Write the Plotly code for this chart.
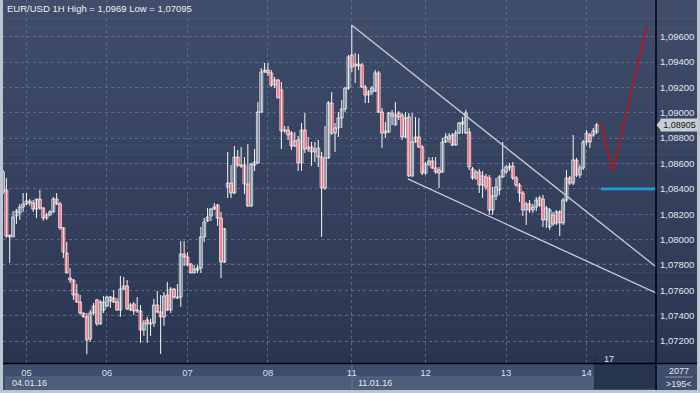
import plotly.graph_objects as go

# ---------------- data ----------------
title_text = "EUR/USD 1H High = 1,0969 Low = 1,07095"

open_ = [1.08375,1.08391,1.08036,1.08021,1.08186,1.08210,1.08257,1.08281,1.08304,1.08288,
         1.08241,1.08320,1.08249,1.08170,1.08194,1.08218,1.08320,1.08281,1.08092,1.07894,
         1.07697,1.07681,1.07571,1.07508,1.07421,1.07390,1.07216,1.07421,1.07524,1.07335,
         1.07445,1.07476,1.07516,1.07539,1.07508,1.07445,1.07610,1.07634,1.07445,1.07492,
         1.07437,1.07437,1.07287,1.07366,1.07335,1.07342,1.07484,1.07429,1.07390,1.07563,
         1.07445,1.07610,1.07539,1.07547,1.07886,1.07863,1.07807,1.07736,1.07760,1.07776,
         1.08021,1.08147,1.08186,1.08241,1.08273,1.08170,1.07823,1.08415,1.08446,1.08367,
         1.08651,1.08588,1.08588,1.08438,1.08265,1.08588,1.08604,1.09006,1.09322,1.09337,
         1.09314,1.09219,1.09259,1.09180,1.08856,1.08864,1.08840,1.08738,1.08785,1.08604,
         1.08864,1.08714,1.08730,1.08691,1.08651,1.08651,1.08407,1.08644,1.09077,1.08840,
         1.08880,1.08959,1.09030,1.09195,1.09456,1.09369,1.09385,1.09377,1.09203,1.09140,
         1.09164,1.09172,1.09314,1.09006,1.08840,1.08848,1.08974,1.08903,1.08998,1.08982,
         1.08809,1.08967,1.08502,1.08770,1.08809,1.08730,1.08525,1.08596,1.08620,1.08565,
         1.08549,1.08533,1.08770,1.08793,1.08825,1.08746,1.08840,1.08911,1.08840,1.08848,
         1.08557,1.08486,1.08533,1.08430,1.08494,1.08486,1.08233,1.08344,1.08391,1.08494,
         1.08533,1.08565,1.08580,1.08486,1.08430,1.08367,1.08233,1.08281,1.08233,1.08257,
         1.08273,1.08320,1.08155,1.08099,1.08194,1.08131,1.08218,1.08131,1.08312,1.08486,
         1.08446,1.08628,1.08509,1.08565,1.08770,1.08825,1.08825,1.08848]
high = [1.08549,1.08486,1.08036,1.08225,1.08241,1.08281,1.08367,1.08367,1.08320,1.08312,
        1.08320,1.08391,1.08257,1.08210,1.08233,1.08336,1.08367,1.08296,1.08099,1.07981,
        1.07776,1.07689,1.07650,1.07563,1.07421,1.07421,1.07445,1.07500,1.07532,1.07524,
        1.07555,1.07555,1.07555,1.07602,1.07539,1.07713,1.07705,1.07681,1.07500,1.07508,
        1.07547,1.07484,1.07366,1.07390,1.07374,1.07532,1.07595,1.07563,1.07587,1.07666,
        1.07626,1.07618,1.07650,1.07989,1.07989,1.07902,1.07815,1.07799,1.07799,1.08099,
        1.08170,1.08249,1.08249,1.08288,1.08281,1.08218,1.08092,1.08691,1.08588,1.08738,
        1.08707,1.08730,1.08651,1.08754,1.08604,1.08714,1.09085,1.09353,1.09393,1.09393,
        1.09337,1.09282,1.09266,1.09243,1.08896,1.08896,1.08856,1.08848,1.08817,1.08919,
        1.08998,1.08809,1.08770,1.08770,1.08785,1.08691,1.08896,1.09093,1.09164,1.08919,
        1.09006,1.09101,1.09203,1.09456,1.09692,1.09471,1.09464,1.09393,1.09219,1.09180,
        1.09211,1.09337,1.09330,1.09038,1.08927,1.09006,1.09022,1.09085,1.09014,1.08998,
        1.09006,1.08998,1.08998,1.08967,1.08959,1.08746,1.08612,1.08651,1.08651,1.08651,
        1.08573,1.08801,1.08840,1.08840,1.08840,1.08864,1.08927,1.08967,1.09022,1.08880,
        1.08573,1.08549,1.08557,1.08541,1.08517,1.08509,1.08415,1.08486,1.08509,1.08770,
        1.08588,1.08604,1.08612,1.08502,1.08446,1.08383,1.08296,1.08312,1.08281,1.08336,
        1.08344,1.08352,1.08265,1.08249,1.08218,1.08233,1.08233,1.08328,1.08549,1.08502,
        1.08825,1.08644,1.08588,1.08785,1.08864,1.08840,1.08880,1.08919]
low = [1.08359,1.08013,1.07815,1.08021,1.08123,1.08155,1.08218,1.08273,1.08265,1.08218,
       1.08170,1.08233,1.08147,1.08155,1.08186,1.08210,1.08273,1.08076,1.07855,1.07736,
       1.07658,1.07524,1.07500,1.07406,1.07390,1.07095,1.07192,1.07406,1.07319,1.07327,
       1.07421,1.07469,1.07461,1.07500,1.07437,1.07390,1.07602,1.07445,1.07437,1.07406,
       1.07421,1.07185,1.07240,1.07185,1.07240,1.07311,1.07421,1.07098,1.07319,1.07437,
       1.07421,1.07532,1.07532,1.07469,1.07791,1.07791,1.07736,1.07736,1.07736,1.07736,
       1.07981,1.08139,1.08147,1.08233,1.08107,1.07697,1.07815,1.08328,1.08328,1.08359,
       1.08573,1.08565,1.08359,1.08257,1.08257,1.08541,1.08596,1.08998,1.09314,1.09290,
       1.09203,1.09195,1.09117,1.08714,1.08840,1.08785,1.08707,1.08730,1.08541,1.08541,
       1.08683,1.08691,1.08580,1.08612,1.08573,1.08021,1.08391,1.08636,1.08825,1.08691,
       1.08809,1.08880,1.09006,1.09180,1.09322,1.09235,1.09337,1.09195,1.09077,1.09077,
       1.09140,1.09164,1.08998,1.08722,1.08801,1.08840,1.08903,1.08903,1.08943,1.08785,
       1.08801,1.08494,1.08494,1.08762,1.08722,1.08509,1.08509,1.08580,1.08557,1.08517,
       1.08407,1.08525,1.08762,1.08762,1.08738,1.08738,1.08833,1.08833,1.08833,1.08549,
       1.08470,1.08470,1.08367,1.08328,1.08391,1.08194,1.08194,1.08312,1.08352,1.08486,
       1.08517,1.08541,1.08470,1.08415,1.08296,1.08186,1.08115,1.08210,1.08210,1.08225,
       1.08257,1.08099,1.08092,1.08076,1.08107,1.08115,1.08028,1.08115,1.08296,1.08430,
       1.08430,1.08494,1.08486,1.08549,1.08746,1.08722,1.08809,1.08833]
close = [1.08533,1.08028,1.08021,1.08178,1.08225,1.08257,1.08281,1.08304,1.08288,1.08241,
         1.08320,1.08249,1.08170,1.08194,1.08218,1.08320,1.08281,1.08092,1.07902,1.07736,
         1.07681,1.07563,1.07508,1.07421,1.07390,1.07208,1.07421,1.07476,1.07335,1.07508,
         1.07508,1.07547,1.07547,1.07508,1.07445,1.07610,1.07634,1.07453,1.07484,1.07437,
         1.07445,1.07287,1.07342,1.07335,1.07342,1.07484,1.07429,1.07390,1.07555,1.07445,
         1.07610,1.07547,1.07547,1.07886,1.07863,1.07799,1.07736,1.07768,1.07776,1.08021,
         1.08139,1.08178,1.08241,1.08257,1.08170,1.07823,1.08084,1.08446,1.08367,1.08651,
         1.08588,1.08580,1.08438,1.08265,1.08596,1.08612,1.09006,1.09322,1.09337,1.09314,
         1.09219,1.09259,1.09117,1.08856,1.08864,1.08825,1.08738,1.08777,1.08604,1.08864,
         1.08714,1.08730,1.08691,1.08714,1.08722,1.08407,1.08644,1.09077,1.08840,1.08880,
         1.08959,1.09030,1.09195,1.09440,1.09361,1.09385,1.09369,1.09203,1.09140,1.09164,
         1.09195,1.09314,1.09006,1.08840,1.08856,1.08998,1.08998,1.08982,1.08967,1.08809,
         1.08959,1.08502,1.08770,1.08809,1.08730,1.08525,1.08596,1.08620,1.08565,1.08533,
         1.08525,1.08770,1.08809,1.08817,1.08746,1.08840,1.08919,1.08927,1.08998,1.08573,
         1.08486,1.08533,1.08430,1.08502,1.08415,1.08233,1.08344,1.08415,1.08494,1.08549,
         1.08573,1.08580,1.08486,1.08430,1.08367,1.08233,1.08281,1.08233,1.08257,1.08312,
         1.08328,1.08155,1.08249,1.08233,1.08123,1.08218,1.08131,1.08312,1.08486,1.08446,
         1.08628,1.08509,1.08565,1.08770,1.08840,1.08770,1.08856,1.08905]

day_ticks = [7, 31, 55, 79, 104, 126, 150, 174]
day_labels = ["05", "06", "07", "08", "11", "12", "13", "14"]
price_ticks = [1.072, 1.074, 1.076, 1.078, 1.080, 1.082, 1.084, 1.086, 1.088, 1.090, 1.092, 1.094, 1.096]
price_labels = ["1,07200", "1,07400", "1,07600", "1,07800", "1,08000", "1,08200", "1,08400",
                "1,08600", "1,08800", "1,09000", "1,09200", "1,09400", "1,09600"]

upper_trend_x = [104, 194.7]
upper_trend_y = [1.0969, 1.07785]
lower_trend_x = [120.7, 194.7]
lower_trend_y = [1.08478, 1.07579]
forecast_x = [178.2, 181.8, 191.9]
forecast_y = [1.08919, 1.08544, 1.09676]
level_x = [178.2, 194.7]
level_y = [1.0840, 1.0840]
last_price = 1.08905
last_price_label = "1,08905"
week_labels = ["04.01.16", "11.01.16"]
bars_label = "2077"
visible_label = ">195<"
shift_label = "17"

X_RANGE = [0, 194.7]
Y_RANGE = [1.070265, 1.098894]

# ---------------- figure ----------------
W, H = 700, 393
ML, MR, MT, MB = 3, 44, 0, 30
PW, PH = W - ML - MR, H - MT - MB


def px(x):
    return (x - ML) / PW


def py(y):
    return (H - MB - y) / PH


BULL_FILL = "#35435f"
BEAR_FILL = "#f0102c"
WHITE = "#f8f8f8"
FONT = "Liberation Sans"

fig = go.Figure()

# wicks
wx, wy = [], []
for i in range(len(open_)):
    wx += [i, i, None]
    wy += [low[i], high[i], None]
fig.add_trace(go.Scatter(x=wx, y=wy, mode="lines", line=dict(color=WHITE, width=1),
                         hoverinfo="skip", showlegend=False))

# bodies
xs = list(range(len(open_)))
base = [min(o, c) for o, c in zip(open_, close)]
hgt = [abs(c - o) for o, c in zip(open_, close)]
fills = [BULL_FILL if c >= o else BEAR_FILL for o, c in zip(open_, close)]
fig.add_trace(go.Bar(x=xs, y=hgt, base=base, width=0.88,
                     marker=dict(color=fills, line=dict(color=WHITE, width=0.75)),
                     hoverinfo="skip", showlegend=False))

# trend lines and drawings
fig.add_trace(go.Scatter(x=upper_trend_x, y=upper_trend_y, mode="lines",
                         line=dict(color="#c9cdd6", width=1.3), showlegend=False, hoverinfo="skip"))
fig.add_trace(go.Scatter(x=lower_trend_x, y=lower_trend_y, mode="lines",
                         line=dict(color="#c9cdd6", width=1.3), showlegend=False, hoverinfo="skip"))
fig.add_trace(go.Scatter(x=forecast_x, y=forecast_y, mode="lines",
                         line=dict(color="#c0101e", width=1.6), showlegend=False, hoverinfo="skip"))
fig.add_trace(go.Scatter(x=level_x, y=level_y, mode="lines",
                         line=dict(color="#1c9de0", width=2.6), showlegend=False, hoverinfo="skip"))

shapes = []


def hexmix(c1, c2, t):
    a = [int(c1[k:k + 2], 16) for k in (1, 3, 5)]
    b = [int(c2[k:k + 2], 16) for k in (1, 3, 5)]
    return "#" + "".join("%02x" % round(a[j] + (b[j] - a[j]) * t) for j in range(3))


# background gradient (plot + right scale)
NB = 40
top_c, bot_c = "#404d6b", "#2a3651"
for k in range(NB):
    y0 = 363 * k / NB
    y1 = 363 * (k + 1) / NB + 0.5
    shapes.append(dict(type="rect", xref="paper", yref="paper", layer="below",
                       x0=px(3), x1=px(697), y0=py(min(y1, 363)), y1=py(y0),
                       fillcolor=hexmix(top_c, bot_c, (k + 0.5) / NB), line=dict(width=0)))
# bottom time-scale area
shapes.append(dict(type="rect", xref="paper", yref="paper", layer="below",
                   x0=px(3), x1=px(697), y0=py(390), y1=py(363),
                   fillcolor="#3e4d6b", line=dict(width=0)))
# date strip
shapes.append(dict(type="rect", xref="paper", yref="paper", layer="below",
                   x0=px(6), x1=px(593), y0=py(389), y1=py(377),
                   fillcolor="#4d5c79", line=dict(color="#5a6986", width=1)))
shapes.append(dict(type="line", xref="paper", yref="paper", layer="above",
                   x0=px(352), x1=px(352), y0=py(389), y1=py(364),
                   line=dict(color="#6a7894", width=1)))
# dark future box
shapes.append(dict(type="rect", xref="paper", yref="paper", layer="below",
                   x0=px(594), x1=px(655), y0=py(389), y1=py(364),
                   fillcolor="#27344f", line=dict(width=0)))
# bottom-right info box separator
shapes.append(dict(type="line", xref="paper", yref="paper", layer="above",
                   x0=px(665), x1=px(693), y0=py(377), y1=py(377),
                   line=dict(color="#8995ab", width=1)))
# black axis lines
shapes.append(dict(type="line", xref="paper", yref="paper", layer="above",
                   x0=px(656), x1=px(656), y0=py(390), y1=py(0),
                   line=dict(color="#000000", width=1.5)))
shapes.append(dict(type="line", xref="paper", yref="paper", layer="above",
                   x0=px(3), x1=px(697), y0=py(363.5), y1=py(363.5),
                   line=dict(color="#000000", width=1.5)))
# outer frame
shapes.append(dict(type="rect", xref="paper", yref="paper", layer="above",
                   x0=px(1.5), x1=px(698.5), y0=py(391.5), y1=py(-2),
                   fillcolor="rgba(0,0,0,0)", line=dict(color="#bcc5d2", width=3)))
# shift marker triangle
shapes.append(dict(type="path", xref="paper", yref="paper", layer="above",
                   path="M %f %f L %f %f L %f %f Z" % (px(591), py(361), px(595.5), py(356.5), px(600), py(361)),
                   fillcolor="#24304a", line=dict(width=0)))
# price tag arrow
shapes.append(dict(type="path", xref="paper", yref="paper", layer="above",
                   path="M %f %f L %f %f L %f %f Z" % (px(656.5), py(125), px(661), py(119.5), px(661), py(130.5)),
                   fillcolor="#c9ced6", line=dict(width=0)))

annotations = [
    dict(text=title_text, xref="paper", yref="paper", x=px(5), y=py(8), xanchor="left",
         yanchor="middle", showarrow=False, font=dict(family=FONT, size=9.5, color="#eef0f4")),
    dict(text=last_price_label, xref="paper", yref="y", x=px(660), y=last_price, xanchor="left",
         yanchor="middle", showarrow=False, bgcolor="#c9ced6", borderpad=1, width=35, height=10,
         font=dict(family=FONT, size=9, color="#111111")),
    dict(text=week_labels[0], xref="paper", yref="paper", x=px(10), y=py(383), xanchor="left",
         yanchor="middle", showarrow=False, font=dict(family=FONT, size=9, color="#e4e8ef")),
    dict(text=week_labels[1], xref="paper", yref="paper", x=px(356), y=py(383), xanchor="left",
         yanchor="middle", showarrow=False, font=dict(family=FONT, size=9, color="#e4e8ef")),
    dict(text=bars_label, xref="paper", yref="paper", x=px(679), y=py(371), xanchor="center",
         yanchor="middle", showarrow=False, font=dict(family=FONT, size=9, color="#e4e8ef")),
    dict(text=visible_label, xref="paper", yref="paper", x=px(679), y=py(383.5), xanchor="center",
         yanchor="middle", showarrow=False, font=dict(family=FONT, size=9, color="#e4e8ef")),
    dict(text=shift_label, xref="paper", yref="paper", x=px(602), y=py(358.5), xanchor="left",
         yanchor="middle", showarrow=False, font=dict(family=FONT, size=9, color="#dde3ec")),
]

fig.update_layout(
    width=W, height=H, autosize=False,
    margin=dict(l=ML, r=MR, t=MT, b=MB, pad=0),
    paper_bgcolor="#bcc5d2", plot_bgcolor="rgba(0,0,0,0)",
    barmode="overlay", showlegend=False, hovermode=False,
    shapes=shapes, annotations=annotations,
    xaxis=dict(range=X_RANGE, tickmode="array", tickvals=day_ticks, ticktext=day_labels,
               showgrid=True, gridcolor="#5b6a86", gridwidth=1, griddash="3px,3px",
               zeroline=False, showline=False, ticks="", ticklabelstandoff=2,
               tickfont=dict(family=FONT, size=9.5, color="#d8e2f0"), fixedrange=True),
    yaxis=dict(range=Y_RANGE, side="right", tickmode="array", tickvals=price_ticks, ticktext=price_labels,
               showgrid=True, gridcolor="#5b6a86", gridwidth=1, griddash="3px,3px",
               zeroline=False, showline=False, ticks="", ticklabelstandoff=3,
               tickfont=dict(family=FONT, size=9.5, color="#e2e6ee"), fixedrange=True),
)

fig.write_html("out.html")
